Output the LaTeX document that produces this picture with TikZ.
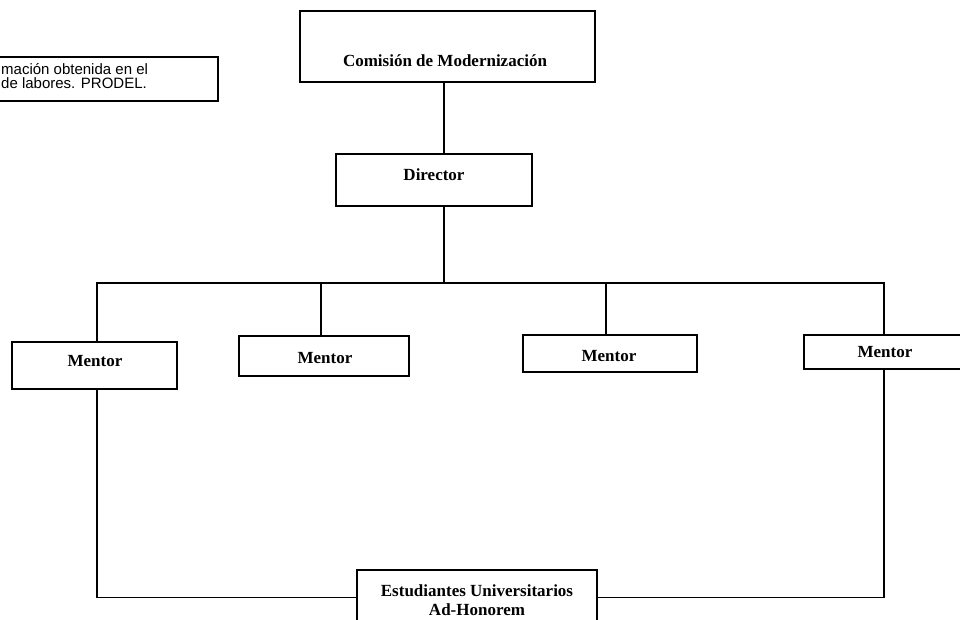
\documentclass[tikz,border=0pt]{standalone}
\usepackage{fontspec}
\setmainfont{Liberation Serif}
\newfontfamily\notefont{Liberation Sans}
\usetikzlibrary{fit}
\tikzset{
  box/.style={draw, line width=1.3pt, inner sep=0pt, rectangle},
  lbl/.style={font=\fontsize{17}{19}\selectfont\bfseries, inner sep=0pt},
  notetxt/.style={font=\notefont\fontsize{15}{16}\selectfont, inner sep=0pt, anchor=base west},
  conn/.style={line width=1.3pt}
}
\begin{document}
\begin{tikzpicture}[x=1pt,y=-1pt]
\useasboundingbox[fill=white] (0,0) rectangle (960,620);
% note box (cut at left edge)
\node[box, fit={(-6,57)(218,101)}] (note) {};
\node[notetxt] (n1) at (1,75) {mación obtenida en el};
\node[notetxt] (n2) at (1,89) {de labores. PRODEL.};
% boxes
\node[box, fit={(300,11)(595,82)}] (com) {};
\node[lbl] (comt) at (445,61) {Comisión de Modernización};
\node[box, fit={(336,154)(532,206)}] (dir) {};
\node[lbl] (dirt) at (434,175) {Director};
\node[box, fit={(12,342)(177,389)}] (m1) {};
\node[lbl] (m1t) at (95,361) {Mentor};
\node[box, fit={(239,336)(409,376)}] (m2) {};
\node[lbl] (m2t) at (325,358) {Mentor};
\node[box, fit={(523,335)(697,372)}] (m3) {};
\node[lbl] (m3t) at (609,356) {Mentor};
\node[box, fit={(804,335)(962,369)}] (m4) {};
\node[lbl] (m4t) at (885,352) {Mentor};
\node[box, fit={(357,570)(597,625)}] (est) {};
\node[lbl] (e1) at (477,591) {Estudiantes Universitarios};
\node[lbl] (e2) at (477,610) {Ad-Honorem};
% coordinates
\coordinate (j) at (444,283);
\coordinate (c1) at (97,283);
\coordinate (c2) at (321,283);
\coordinate (c3) at (606,283);
\coordinate (c4) at (884,283);
% connectors
\draw[conn] (com.south -| j) -- (dir.north -| j);
\draw[conn] (dir.south -| j) -- (j);
\draw[conn] (c1 |- m1.north) -- (c1) -- (c4) -- (c4 |- m4.north);
\draw[conn] (c2) -- (c2 |- m2.north);
\draw[conn] (c3) -- (c3 |- m3.north);
\draw[conn] (c1 |- m1.south) |- (est.west);
\draw[conn] (c4 |- m4.south) |- (est.east);
\end{tikzpicture}
\end{document}
